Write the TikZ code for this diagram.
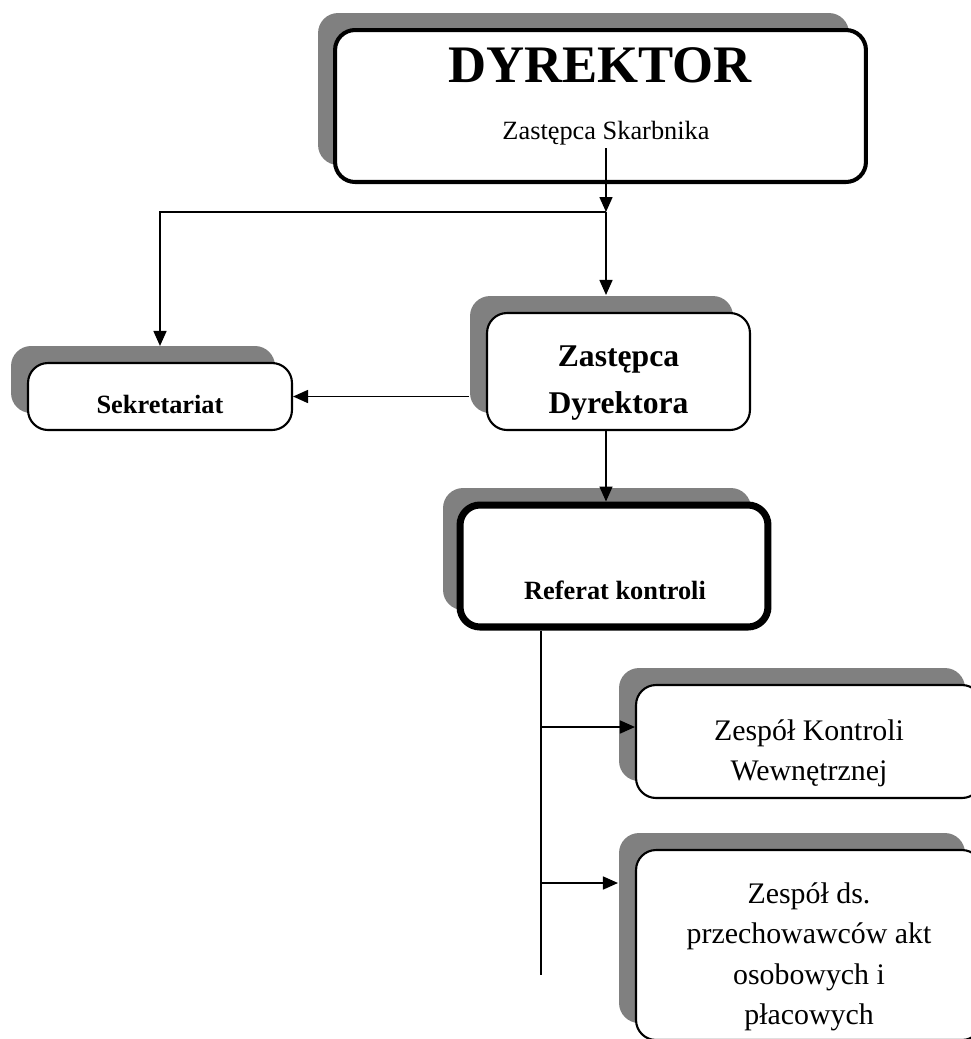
\documentclass[tikz,border=0pt]{standalone}
\usepackage{fontspec}
\setmainfont{Liberation Serif}
\usetikzlibrary{arrows.meta,positioning,shadows}

\begin{document}
\begin{tikzpicture}[x=0.02cm,y=-0.02cm,>={Triangle[length=0.3cm,width=0.26cm]},
  unit/.style={draw,fill=white,rounded corners=0.4cm,line width=1.2pt,
    inner sep=0pt,
    drop shadow={shadow xshift=-0.34cm,shadow yshift=0.34cm,fill=gray,opacity=1}},
  link/.style={line width=0.9pt}]

  \clip (0,0) rectangle (971,1039);

  % Top: director
  \node[unit,line width=2.3pt,minimum width=10.62cm,minimum height=3.04cm]
    (dyr) at (600.5,106) {};
  \node[font=\fontsize{30}{36}\selectfont\bfseries] (dyrname) at (600,65) {DYREKTOR};
  \node[font=\fontsize{15}{18}\selectfont] (dyrsub) at (606,133) {Zastępca Skarbnika};

  % Middle row
  \node[unit,minimum width=5.28cm,minimum height=1.34cm] (sek) at (160,396.5) {};
  \node[font=\fontsize{15}{18}\selectfont\bfseries] (sektxt) at (160,404) {Sekretariat};
  \node[unit,minimum width=5.26cm,minimum height=2.34cm] (zd) at (618.5,371.5) {};
  \node[align=center,font=\fontsize{18}{27}\selectfont\bfseries] (zdtxt) at (618.5,383)
    {Zastępca\\Dyrektora};

  % Control unit
  \node[unit,line width=4pt,minimum width=6.16cm,minimum height=2.44cm]
    (ref) at (614,566) {};
  \node[font=\fontsize{15}{18}\selectfont\bfseries] (reftxt) at (615,590) {Referat kontroli};

  % Teams
  \node[unit,minimum width=6.92cm,minimum height=2.26cm] (zkw) at (809,741.5) {};
  \node[align=center,font=\fontsize{17}{23}\selectfont] (zkwtxt) at (809,753)
    {Zespół Kontroli\\Wewnętrznej};
  \node[unit,minimum width=6.92cm,minimum height=3.8cm] (zds) at (809,945) {};
  \node[align=center,font=\fontsize{17}{23}\selectfont] (zdstxt) at (809,957)
    {Zespół ds.\\przechowawców akt\\osobowych i\\płacowych};

  % Connectors
  \coordinate (dyrout) at (606,148);
  \coordinate (split) at (606,212);
  \draw[link,->] (dyrout) -- (split);
  \draw[link,->,shorten >=0.32cm] (split) -| (sek.north);
  \draw[link,->,shorten >=0.34cm] (split) -- (split |- zd.north);
  \draw[link,->,shorten <=0.34cm] (zd.west |- sek.east) -- (sek.east);
  \draw[link,->] (zd.south -| split) -- (ref.north -| split);

  % Branch bar
  \coordinate (barend) at (541,975);
  \coordinate (b1) at (541,727);
  \coordinate (b2) at (541,883);
  \draw[link] (barend |- ref.south) -- (barend);
  \draw[link,->] (b1) -- (b1 -| zkw.west);
  \draw[link,->,shorten >=0.34cm] (b2) -- (b2 -| zds.west);

\end{tikzpicture}
\end{document}
